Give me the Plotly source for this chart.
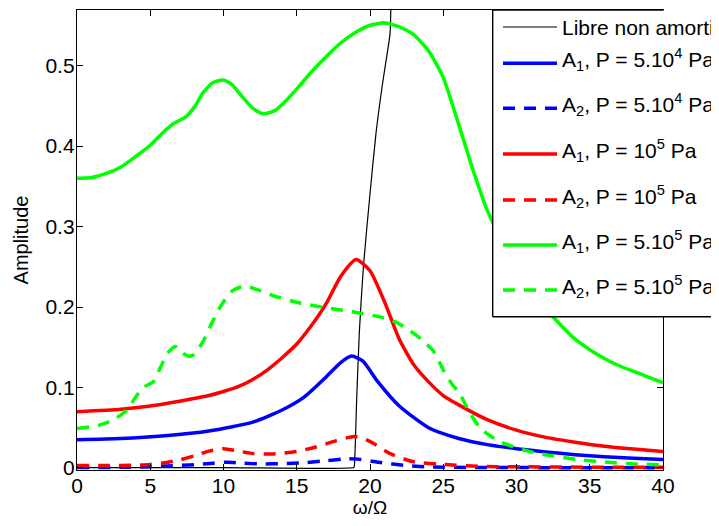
import plotly.graph_objects as go

# ---- data ----
free_x = [0, 10, 18.9, 18.93, 19.09, 19.27, 19.55, 19.96, 20.41, 20.86, 21.14, 21.37, 21.43, 21.5]
free_y = [0.0005, 0.0005, 0.0007, 0.002, 0.085, 0.168, 0.250, 0.333, 0.416, 0.478, 0.511, 0.540, 0.58, 0.65]

a1_p1_x = [0, 3, 6, 9, 12, 14, 15.5, 17, 18, 18.75, 19.5, 20.5, 22, 24, 26, 28, 30, 32, 34, 36, 38, 40]
a1_p1_y = [0.035, 0.0365, 0.040, 0.046, 0.057, 0.072, 0.088, 0.113, 0.131, 0.139, 0.133, 0.108, 0.077,
           0.050, 0.037, 0.029, 0.024, 0.020, 0.0165, 0.014, 0.012, 0.0105]

a2_p1_x = [0, 3, 5, 6.5, 8, 9.3, 10.3, 11.3, 12.5, 14, 15.5, 17, 18.5, 19.2, 20.6, 22.5, 24.3, 27, 40]
a2_p1_y = [0.0005, 0.0008, 0.0015, 0.0028, 0.004, 0.006, 0.0072, 0.006, 0.005, 0.0055, 0.0065, 0.009,
           0.0115, 0.011, 0.007, 0.003, 0.0012, 0.0006, 0.0004]

a1_p2_x = [0, 3, 5, 7, 9, 10, 11, 12, 13, 14, 15, 16, 17, 18, 19.05, 20, 21, 22, 23, 24, 25, 26, 28, 30,
           32, 34, 36, 38, 40]
a1_p2_y = [0.070, 0.073, 0.077, 0.083, 0.090, 0.095, 0.101, 0.110, 0.122, 0.137, 0.154, 0.177, 0.204,
           0.238, 0.259, 0.245, 0.206, 0.160, 0.128, 0.107, 0.090, 0.079, 0.060, 0.047, 0.038, 0.032,
           0.027, 0.0235, 0.0205]

a2_p2_x = [0, 2, 4, 5, 6, 7, 8, 9, 10, 11, 12, 13.4, 15, 16.3, 17.7, 18.9, 19.5, 20.2, 21.3, 22.9, 24.7,
           27.7, 30, 35, 40]
a2_p2_y = [0.003, 0.003, 0.0035, 0.0045, 0.0065, 0.010, 0.015, 0.021, 0.024, 0.021, 0.018, 0.0175,
           0.0205, 0.026, 0.034, 0.039, 0.037, 0.031, 0.0185, 0.008, 0.0048, 0.002, 0.0015, 0.001, 0.001]

a1_p3_x = [0, 1, 2, 3, 4, 5, 6, 6.6, 7.4, 8.0, 8.6, 9.3, 10, 10.6, 11.2, 12, 12.7, 13.5, 14.3, 15.2, 16,
           17, 18, 19, 20, 21, 22, 23, 24, 25, 26, 27, 28, 29, 30, 31, 32, 33, 34, 35, 36, 37, 38, 39, 40]
a1_p3_y = [0.360, 0.361, 0.366, 0.374, 0.387, 0.401, 0.419, 0.428, 0.436, 0.448, 0.466, 0.479, 0.482,
           0.476, 0.463, 0.447, 0.440, 0.444, 0.457, 0.475, 0.492, 0.511, 0.528, 0.541, 0.550, 0.553,
           0.548, 0.538, 0.518, 0.485, 0.430, 0.372, 0.320, 0.283, 0.255, 0.226, 0.198, 0.178, 0.160,
           0.147, 0.136, 0.127, 0.120, 0.113, 0.106]

a2_p3_x = [0, 1.5, 2.5, 3.4, 4.0, 4.5, 5.2, 5.7, 6.2, 6.7, 7.2, 7.6, 8.0, 8.6, 9.2, 9.8, 10.6, 11.4, 12.4,
           13.4, 15.2, 17, 18.8, 20.6, 21.8, 22.7, 23.5, 24.3, 25.0, 25.6, 26.1, 26.8, 27.5, 28.2, 28.8,
           29.7, 31, 32, 34.3, 36.5, 38, 40]
a2_p3_y = [0.049, 0.053, 0.060, 0.072, 0.088, 0.100, 0.107, 0.125, 0.143, 0.151, 0.143, 0.139, 0.141,
           0.157, 0.180, 0.201, 0.220, 0.226, 0.221, 0.214, 0.205, 0.199, 0.194, 0.188, 0.181, 0.171,
           0.160, 0.146, 0.122, 0.104, 0.093, 0.069, 0.050, 0.040, 0.033, 0.027, 0.020, 0.0164, 0.0102,
           0.0068, 0.005, 0.004]

x_ticks = [0, 5, 10, 15, 20, 25, 30, 35, 40]
y_ticks = [0, 0.1, 0.2, 0.3, 0.4, 0.5]
y_tick_labels = ["0", "0.1", "0.2", "0.3", "0.4", "0.5"]

names = [
    "Libre non amorti",
    "A<sub>1</sub>, P = 5.10<sup>4</sup> Pa",
    "A<sub>2</sub>, P = 5.10<sup>4</sup> Pa",
    "A<sub>1</sub>, P = 10<sup>5</sup> Pa",
    "A<sub>2</sub>, P = 10<sup>5</sup> Pa",
    "A<sub>1</sub>, P = 5.10<sup>5</sup> Pa",
    "A<sub>2</sub>, P = 5.10<sup>5</sup> Pa",
]

DASH = "12px,9px"
series = [
    (free_x, free_y, "#000000", 1.2, "solid"),
    (a1_p1_x, a1_p1_y, "#0000FF", 3.5, "solid"),
    (a2_p1_x, a2_p1_y, "#0000FF", 3.5, DASH),
    (a1_p2_x, a1_p2_y, "#FF0000", 3.5, "solid"),
    (a2_p2_x, a2_p2_y, "#FF0000", 3.5, DASH),
    (a1_p3_x, a1_p3_y, "#00FF00", 3.5, "solid"),
    (a2_p3_x, a2_p3_y, "#00FF00", 3.5, DASH),
]

# figure geometry (the page body adds an 8px margin on every side)
W, H = 711, 510
ML, MR, MT, MB = 69, 56, 2, 48
PW, PH = W - ML - MR, H - MT - MB
OFF = 8


def px_x(px):  # page pixel -> paper x
    return (px - OFF - ML) / PW


def px_y(py):  # page pixel -> paper y
    return 1 - (py - OFF - MT) / PH


fig = go.Figure()
for i, ((xs, ys, col, w, dash), nm) in enumerate(zip(series, names)):
    fig.add_trace(go.Scatter(
        x=xs, y=ys, mode="lines", name=nm, showlegend=False,
        line=dict(color=col, width=w, dash=dash, shape="spline", smoothing=0.6),
    ))

FONT = "Liberation Sans, Arial, Helvetica, sans-serif"

# legend box (runs past the right edge of the page, as in the original)
shapes = [
    dict(type="rect", xref="paper", yref="paper", x0=px_x(492.7), x1=px_x(820), y0=px_y(316.7), y1=px_y(10),
         fillcolor="white", line=dict(width=0), layer="above"),
    dict(type="line", xref="paper", yref="paper", x0=px_x(492.7), x1=px_x(492.7), y0=px_y(316.7), y1=px_y(10),
         line=dict(color="black", width=1.4), layer="above"),
    dict(type="line", xref="paper", yref="paper", x0=px_x(492.7), x1=px_x(820), y0=px_y(316.7), y1=px_y(316.7),
         line=dict(color="black", width=1.4), layer="above"),
    dict(type="line", xref="paper", yref="paper", x0=px_x(492.7), x1=px_x(663.5), y0=px_y(10), y1=px_y(10),
         line=dict(color="black", width=1.4), layer="above"),
]
row_y = [27, 63.3, 108.3, 154, 200, 245, 290]
annotations = []
for (xs, ys, col, w, dash), nm, ry in zip(series, names, row_y):
    shapes.append(dict(type="line", xref="paper", yref="paper", x0=px_x(503), x1=px_x(557),
                       y0=px_y(ry), y1=px_y(ry), line=dict(color=col, width=w, dash=dash), layer="above"))
    has_sub = "<sub>" in nm
    annotations.append(dict(
        text=nm, xref="paper", yref="paper", x=px_x(560), y=px_y(ry + (-4 if has_sub else 0)),
        xanchor="left", yanchor="middle", showarrow=False, align="left",
        font=dict(family=FONT, size=21, color="black"),
    ))

fig.update_layout(
    width=W, height=H,
    margin=dict(l=ML, r=MR, t=MT, b=MB),
    paper_bgcolor="white", plot_bgcolor="white",
    font=dict(family=FONT, size=21, color="black"),
    showlegend=False,
    shapes=shapes,
    annotations=annotations,
    xaxis=dict(
        range=[0, 40], tickvals=x_ticks, ticks="inside", ticklen=6, tickcolor="black",
        showline=True, linecolor="black", linewidth=1.3, mirror="ticks",
        showgrid=False, zeroline=False, ticklabelstandoff=-3,
        title=dict(text="ω/Ω", font=dict(size=19), standoff=0),
    ),
    yaxis=dict(
        range=[-0.0025, 0.569], tickvals=y_ticks, ticktext=y_tick_labels, ticks="inside",
        ticklen=6, tickcolor="black",
        showline=True, linecolor="black", linewidth=1.3, mirror="ticks",
        showgrid=False, zeroline=False, ticklabelstandoff=-3,
        title=dict(text="Amplitude", font=dict(size=20), standoff=11),
    ),
)

fig.write_html("out.html")
